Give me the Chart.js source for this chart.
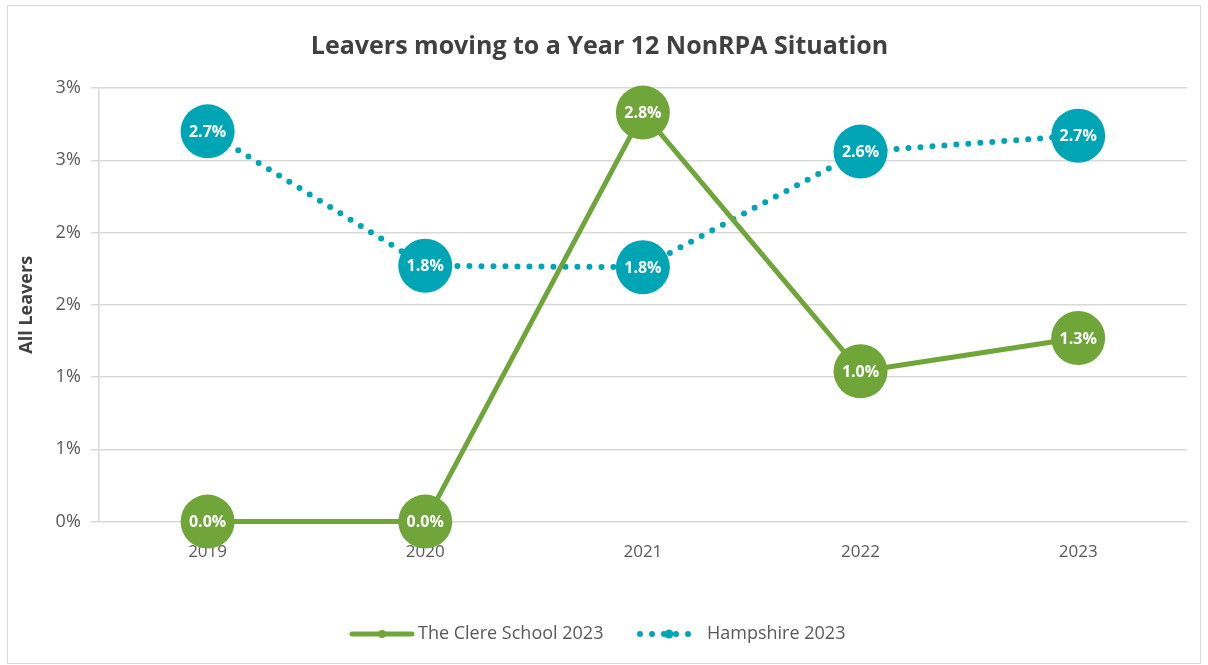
<!DOCTYPE html>
<html>
<head>
<meta charset="utf-8">
<script src="https://cdn.jsdelivr.net/npm/chart.js@4.4.0/dist/chart.umd.min.js"></script>
<style>
  body { margin: 0; background: #fff; }
  #wrap { position: absolute; left: 0; top: 0; width: 1208px; height: 665px; }
</style>
</head>
<body>
<div id="wrap"><canvas id="chart" width="1208" height="665"></canvas></div>
<script>
// data
const years = ['2019', '2020', '2021', '2022', '2023'];
const clereValues = [0, 0, 2.83, 1.04, 1.27];
const hampshireValues = [2.70, 1.77, 1.76, 2.56, 2.67];
const yTickLabels = ['0%', '1%', '1%', '2%', '2%', '3%', '3%'];

const green = '#70A53A';
const teal = '#00A5B5';
const font = "'Open Sans', 'Noto Sans', sans-serif";

// outer frame
const framePlugin = {
  id: 'frame',
  beforeDraw(chart) {
    const ctx = chart.ctx;
    ctx.save();
    ctx.strokeStyle = '#d9d9d9';
    ctx.lineWidth = 1;
    ctx.strokeRect(7.5, 5.5, 1193, 658);
    ctx.restore();
  }
};

// white value labels inside the big markers
const valueLabels = {
  id: 'valueLabels',
  afterDatasetsDraw(chart) {
    const ctx = chart.ctx;
    ctx.save();
    ctx.font = 'bold 16px ' + font;
    ctx.fillStyle = '#fff';
    ctx.textAlign = 'center';
    ctx.textBaseline = 'middle';
    chart.data.datasets.forEach((ds, i) => {
      chart.getDatasetMeta(i).data.forEach((pt, j) => {
        ctx.fillText(ds.data[j].toFixed(1) + '%', pt.x, pt.y + 1);
      });
    });
    ctx.restore();
  }
};

// legend drawn by hand so the line styles match
const customLegend = {
  id: 'customLegend',
  afterDraw(chart) {
    const ctx = chart.ctx;
    const y = 634;
    ctx.save();
    ctx.font = '18px ' + font;
    ctx.textBaseline = 'middle';

    // green solid line with dot
    ctx.strokeStyle = green;
    ctx.lineWidth = 5;
    ctx.lineCap = 'round';
    ctx.beginPath();
    ctx.moveTo(352, y);
    ctx.lineTo(412, y);
    ctx.stroke();
    ctx.fillStyle = green;
    ctx.beginPath();
    ctx.arc(382, y, 4, 0, Math.PI * 2);
    ctx.fill();
    ctx.fillStyle = '#595959';
    ctx.fillText(chart.data.datasets[0].label, 418, y);

    // teal dotted line with dot
    ctx.fillStyle = teal;
    [640, 652, 664, 676, 688].forEach(x => {
      ctx.beginPath();
      ctx.arc(x, y, 3, 0, Math.PI * 2);
      ctx.fill();
    });
    ctx.beginPath();
    ctx.arc(669, y, 4.5, 0, Math.PI * 2);
    ctx.fill();
    ctx.fillStyle = '#595959';
    ctx.fillText(chart.data.datasets[1].label, 707, y);
    ctx.restore();
  }
};

new Chart(document.getElementById('chart'), {
  type: 'line',
  data: {
    labels: years,
    datasets: [
      {
        label: 'The Clere School 2023',
        data: clereValues,
        borderColor: green,
        backgroundColor: green,
        borderWidth: 5,
        pointRadius: 27,
        pointBorderWidth: 0,
        pointBackgroundColor: green,
        clip: false,
        tension: 0
      },
      {
        label: 'Hampshire 2023',
        data: hampshireValues,
        borderColor: teal,
        backgroundColor: teal,
        borderWidth: 6,
        borderDash: [0, 12],
        borderCapStyle: 'round',
        pointRadius: 27,
        pointBorderWidth: 0,
        pointBackgroundColor: teal,
        clip: false,
        tension: 0
      }
    ]
  },
  options: {
    responsive: false,
    animation: false,
    layout: { autoPadding: false, padding: { left: 12, right: 21, top: 10, bottom: 91 } },
    plugins: {
      legend: { display: false },
      tooltip: { enabled: false },
      title: {
        display: true,
        text: 'Leavers moving to a Year 12 NonRPA Situation',
        color: '#404040',
        font: { family: font, size: 25, weight: 'bold' },
        padding: { top: 22, bottom: 26 }
      }
    },
    scales: {
      x: {
        offset: true,
        grid: { display: false },
        border: { display: true, color: '#d9d9d9' },
        ticks: { color: '#595959', font: { family: font, size: 17 }, padding: 12 }
      },
      y: {
        min: 0,
        max: 3,
        grid: { color: '#d9d9d9', lineWidth: 1.5, tickLength: 8 },
        border: { color: '#d9d9d9', width: 1.5 },
        title: {
          display: true,
          text: 'All Leavers',
          color: '#404040',
          font: { family: font, size: 18, weight: 'bold' },
          padding: { bottom: 8 }
        },
        ticks: {
          stepSize: 0.5,
          color: '#595959',
          font: { family: font, size: 18 },
          padding: 10,
          callback: (v, i) => yTickLabels[i]
        }
      }
    }
  },
  plugins: [framePlugin, valueLabels, customLegend]
});
</script>
</body>
</html>
